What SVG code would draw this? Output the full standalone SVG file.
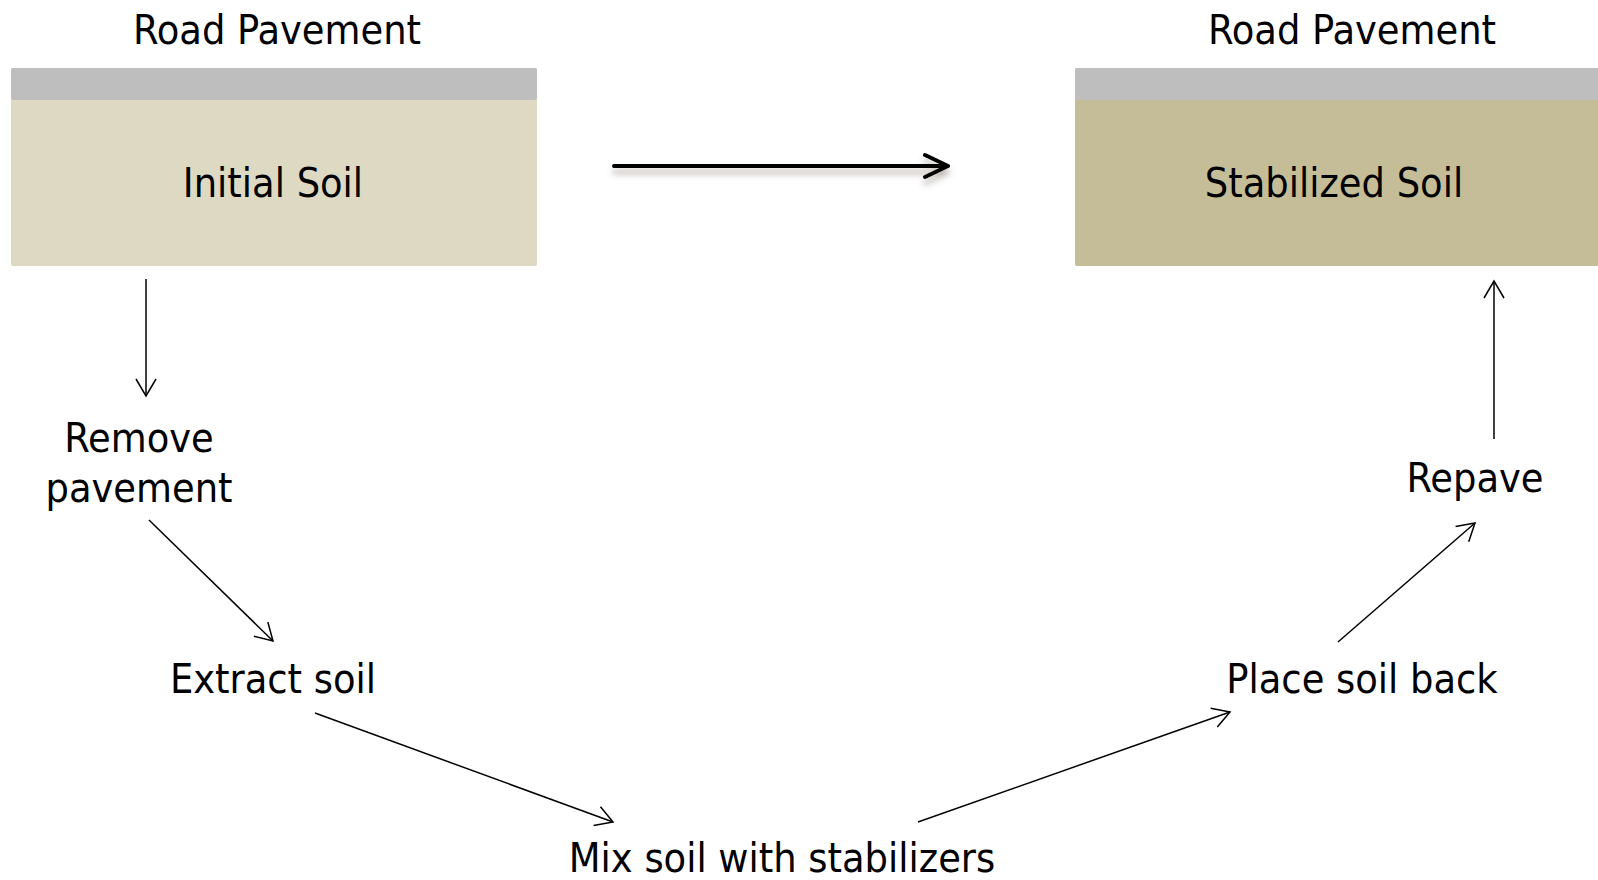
<svg xmlns="http://www.w3.org/2000/svg" width="1598" height="880" viewBox="0 0 1598 880">
<style>
  text { font-family: "DejaVu Sans Condensed", "DejaVu Sans", sans-serif; font-size: 41px; fill: #000; text-anchor: middle; }
  .thin { fill: none; stroke: #000; stroke-width: 1.5; marker-end: url(#head); }
  .band { fill: #BEBEBE; }
</style>
<defs>
  <marker id="head" markerUnits="userSpaceOnUse" viewBox="-20 -12 22 24" markerWidth="22" markerHeight="24" refX="0" refY="0" orient="auto">
    <path d="M -17 -10 L 0 0 L -17 10" fill="none" stroke="#000" stroke-width="1.5"/>
  </marker>
  <filter id="shadow" filterUnits="userSpaceOnUse" x="590" y="130" width="390" height="70">
    <feDropShadow dx="0" dy="6" stdDeviation="3" flood-color="#6b5a50" flood-opacity="0.45"/>
  </filter>
</defs>

<g id="initial">
  <text x="277" y="44">Road Pavement</text>
  <rect x="11" y="68" width="526" height="198" rx="2" fill="#DDD9C3"/>
  <rect class="band" x="11" y="68" width="526" height="32" rx="2"/>
  <text x="273" y="197">Initial Soil</text>
</g>

<g id="stabilized">
  <text x="1352" y="44">Road Pavement</text>
  <rect x="1075" y="68" width="530" height="198" rx="2" fill="#C4BD97"/>
  <rect class="band" x="1075" y="68" width="530" height="32" rx="2"/>
  <text x="1334" y="197">Stabilized Soil</text>
</g>

<g id="remove">
  <text x="139" y="452">Remove</text>
  <text x="139" y="502">pavement</text>
</g>
<g id="extract"><text x="273" y="693">Extract soil</text></g>
<g id="mix"><text x="782" y="872">Mix soil with stabilizers</text></g>
<g id="place"><text x="1362" y="693">Place soil back</text></g>
<g id="repave"><text x="1475" y="492">Repave</text></g>

<g id="connectors">
  <path d="M 614 166 L 948 166 M 925 155 L 948 166 L 925 177" fill="none" stroke="#000" stroke-width="4" stroke-linecap="round" stroke-linejoin="round" filter="url(#shadow)"/>
  <line class="thin" x1="146" y1="279" x2="146" y2="396"/>
  <line class="thin" x1="149" y1="520" x2="273" y2="641"/>
  <line class="thin" x1="315" y1="713" x2="613" y2="822"/>
  <line class="thin" x1="918" y1="822" x2="1230" y2="712"/>
  <line class="thin" x1="1338" y1="642" x2="1475" y2="523"/>
  <line class="thin" x1="1494" y1="439" x2="1494" y2="281"/>
</g>
</svg>
